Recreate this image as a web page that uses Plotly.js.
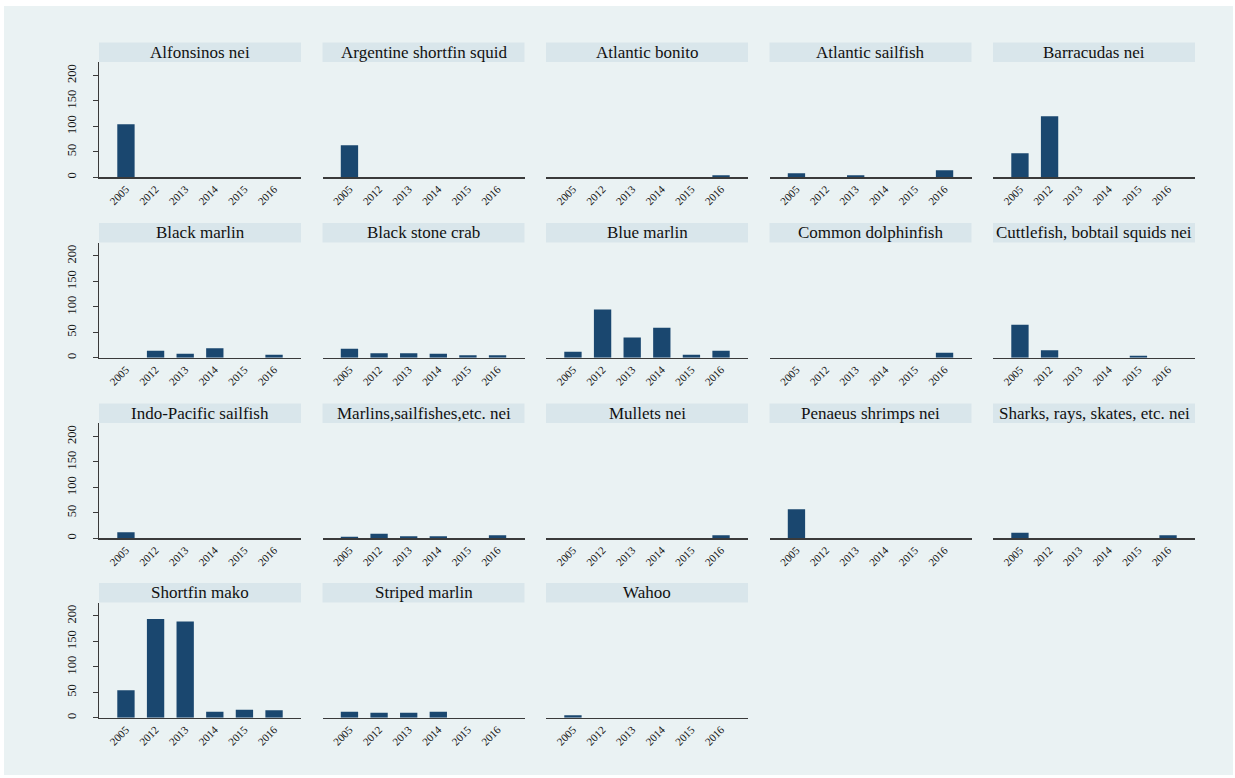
<!DOCTYPE html>
<html>
<head>
<meta charset="utf-8">
<script src="https://cdn.plot.ly/plotly-3.0.1.min.js"></script>
<style>html,body{margin:0;padding:0;background:#fff;}#chart{width:1235px;height:778px;}</style>
</head>
<body>
<div id="chart"></div>
<script>
// ---- data ----
const years = ["2005", "2012", "2013", "2014", "2015", "2016"];
const panelNames = [
  "Alfonsinos nei", "Argentine shortfin squid", "Atlantic bonito", "Atlantic sailfish", "Barracudas nei",
  "Black marlin", "Black stone crab", "Blue marlin", "Common dolphinfish", "Cuttlefish, bobtail squids nei",
  "Indo-Pacific sailfish", "Marlins,sailfishes,etc. nei", "Mullets nei", "Penaeus shrimps nei", "Sharks, rays, skates, etc. nei",
  "Shortfin mako", "Striped marlin", "Wahoo"
];
const alfonsinos   = [104, null, null, null, null, null];
const argentineSq  = [63, null, null, null, null, null];
const atlBonito    = [null, null, null, null, null, 4];
const atlSailfish  = [8, null, 4, null, null, 14];
const barracudas   = [47, 120, null, null, null, null];
const blackMarlin  = [null, 14, 8, 19, null, 6];
const blackCrab    = [18, 9, 9, 8, 5, 5];
const blueMarlin   = [12, 95, 40, 59, 6, 14];
const dolphinfish  = [null, null, null, null, null, 10];
const cuttlefish   = [65, 15, null, null, 4, null];
const indoSailfish = [12, null, null, null, null, null];
const marlinsNei   = [3, 9, 4, 4, null, 6];
const mullets      = [null, null, null, null, null, 6];
const penaeus      = [57, null, null, null, null, null];
const sharksNei    = [11, null, null, null, null, 6];
const shortfinMako = [54, 194, 189, 12, 16, 15];
const stripedMarlin= [12, 10, 10, 12, null, null];
const wahoo        = [5, null, null, null, null, null];
const panelValues = [alfonsinos, argentineSq, atlBonito, atlSailfish, barracudas,
  blackMarlin, blackCrab, blueMarlin, dolphinfish, cuttlefish,
  indoSailfish, marlinsNei, mullets, penaeus, sharksNei,
  shortfinMako, stripedMarlin, wahoo];
const yTicks = [0, 50, 100, 150, 200];

// ---- layout ----
const W = 1235, H = 778;
const colLeft = [99, 322.5, 546, 769.5, 993];
const panelW = 202;
const rowTop = [62, 242.5, 423, 602.5];
const panelH = 115.3;
const stripH = 19.5;
const FONT = "Liberation Serif, Times New Roman, serif";
const BAR = "#1A476F";

const traces = [];
const layout = {
  width: W, height: H,
  margin: {l: 0, r: 0, t: 0, b: 0},
  paper_bgcolor: "#ffffff",
  plot_bgcolor: "#ffffff",
  showlegend: false,
  bargap: 0.415,
  font: {family: FONT, color: "#000"},
  shapes: [{type: "rect", xref: "paper", yref: "paper", x0: 4/W, x1: 1233/W, y0: 1 - 775/H, y1: 1 - 6/H,
            fillcolor: "#EAF2F3", line: {width: 0}, layer: "below"}],
  annotations: []
};

panelNames.forEach((name, i) => {
  const r = Math.floor(i / 5), c = i % 5;
  const k = i + 1;
  const xa = "xaxis" + (k === 1 ? "" : k), ya = "yaxis" + (k === 1 ? "" : k);
  const xr = "x" + (k === 1 ? "" : k), yr = "y" + (k === 1 ? "" : k);
  const x0 = colLeft[c] / W, x1 = (colLeft[c] + panelW) / W;
  const yTopPx = rowTop[r], yBotPx = rowTop[r] + panelH;
  traces.push({
    type: "bar", x: years, y: panelValues[i], xaxis: xr, yaxis: yr,
    marker: {color: BAR, line: {width: 0}}, hoverinfo: "x+y"
  });
  layout[xa] = {
    domain: [x0, x1], anchor: yr, type: "category",
    range: [-0.91, 5.91], tickangle: -45,
    tickfont: {family: FONT, size: 11, color: "#111"},
    showline: true, linecolor: "#3a3a3a", linewidth: 1.3,
    ticks: "", showgrid: false, zeroline: false, fixedrange: true
  };
  layout[ya] = {
    domain: [1 - yBotPx / H, 1 - yTopPx / H], anchor: xr,
    range: [0, 226.5], tickvals: yTicks,
    showticklabels: c === 0, tickangle: -90,
    tickfont: {family: FONT, size: 12.5, color: "#111"},
    ticks: c === 0 ? "outside" : "", ticklen: 5, tickcolor: "#3a3a3a",
    ticklabelstandoff: 12,
    showline: c === 0, linecolor: "#3a3a3a", linewidth: 1.3,
    showgrid: true, gridcolor: "#EAF2F3", gridwidth: 1.2, zeroline: false, fixedrange: true
  };
  layout.shapes.push({type: "rect", xref: "paper", yref: "paper",
    x0: x0, x1: x1, y0: 1 - yTopPx / H, y1: 1 - (yTopPx - stripH) / H,
    fillcolor: "#D9E6EB", line: {width: 0}});
  layout.annotations.push({xref: "paper", yref: "paper", x: (x0 + x1) / 2, y: 1 - (yTopPx - stripH / 2) / H,
    text: name, showarrow: false, xanchor: "center", yanchor: "middle",
    font: {family: FONT, size: 17, color: "#111"}});
});

Plotly.newPlot("chart", traces, layout, {displayModeBar: false, staticPlot: true});
</script>
</body>
</html>
